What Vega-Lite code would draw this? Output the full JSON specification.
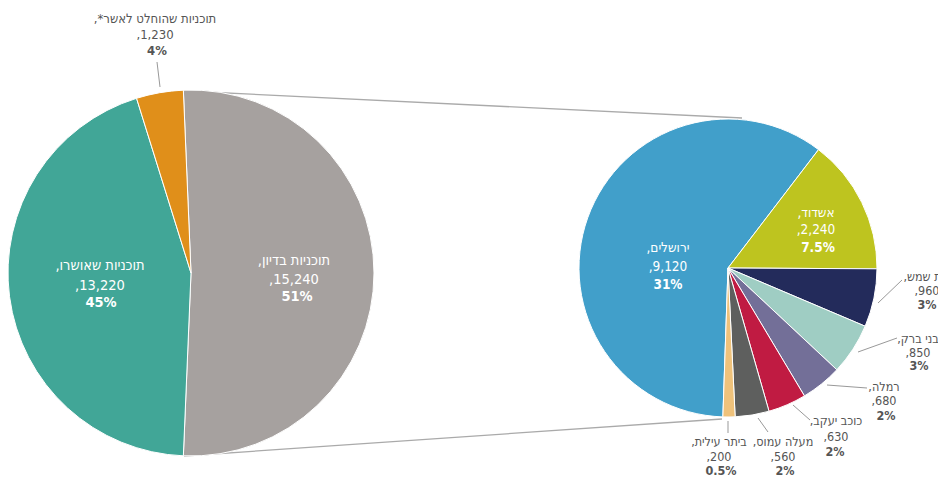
{
  "$schema": "https://vega.github.io/schema/vega-lite/v6.json",
  "width": 938,
  "height": 481,
  "autosize": {"type": "none"},
  "padding": 0,
  "background": "white",
  "config": {"view": {"stroke": null}, "text": {"font": "DejaVu Sans Condensed", "align": "center", "baseline": "middle"}},
  "datasets": {
    "main": [
      {"name": "תוכניות בדיון", "value": 15240, "pct": "51%", "label": "תוכניות בדיון,\u200f\n\u200f15,240,\u200f"},
      {"name": "תוכניות שאושרו", "value": 13220, "pct": "45%", "label": "תוכניות שאושרו,\u200f\n\u200f13,220,\u200f"},
      {"name": "תוכניות שהוחלט לאשר*", "value": 1230, "pct": "4%", "label": "תוכניות שהוחלט לאשר*,\u200f\n\u200f1,230,\u200f"}
    ],
    "sub": [
      {"name": "ירושלים", "value": 9120, "pct": "31%", "label": "ירושלים,\u200f\n\u200f9,120,\u200f"},
      {"name": "אשדוד", "value": 2240, "pct": "7.5%", "label": "אשדוד,\u200f\n\u200f2,240,\u200f"},
      {"name": "בית שמש", "value": 960, "pct": "3%", "label": "בית שמש,\u200f\n\u200f960,\u200f"},
      {"name": "בני ברק", "value": 850, "pct": "3%", "label": "בני ברק,\u200f\n\u200f850,\u200f"},
      {"name": "רמלה", "value": 680, "pct": "2%", "label": "רמלה,\u200f\n\u200f680,\u200f"},
      {"name": "כוכב יעקב", "value": 630, "pct": "2%", "label": "כוכב יעקב,\u200f\n\u200f630,\u200f"},
      {"name": "מעלה עמוס", "value": 560, "pct": "2%", "label": "מעלה עמוס,\u200f\n\u200f560,\u200f"},
      {"name": "ביתר עילית", "value": 200, "pct": "0.5%", "label": "ביתר עילית,\u200f\n\u200f200,\u200f"}
    ]
  },
  "resolve": {"scale": {"theta": "independent", "color": "independent"}},
  "layer": [
    {
      "data": {"name": "main"},
      "transform": [{"filter": "datum.value === 15240"}],
      "layer": [
        {"mark": {"type": "rule", "stroke": "#aaaaaa", "strokeWidth": 1.3},
         "encoding": {"x": {"datum": 185, "axis": null}, "y": {"datum": 91, "axis": null}, "x2": {"datum": 742}, "y2": {"datum": 118}}},
        {"mark": {"type": "rule", "stroke": "#aaaaaa", "strokeWidth": 1.3},
         "encoding": {"x": {"datum": 184, "axis": null}, "y": {"datum": 456, "axis": null}, "x2": {"datum": 722}, "y2": {"datum": 419}}}
      ]
    },
    {
      "data": {"name": "main"},
      "mark": {"type": "arc", "outerRadius": 183, "stroke": "white", "strokeWidth": 1},
      "encoding": {
        "x": {"datum": 191, "scale": {"domain": [0, 938], "nice": false, "zero": false}, "axis": null},
        "y": {"datum": 273, "scale": {"domain": [0, 481], "nice": false, "zero": false, "reverse": true}, "axis": null},
        "theta": {"field": "value", "type": "quantitative", "stack": true, "scale": {"range": [-0.0418, 6.2414]}},
        "order": {"field": "value", "sort": "descending"},
        "color": {"field": "name", "type": "nominal", "legend": null,
          "scale": {"domain": ["תוכניות בדיון", "תוכניות שאושרו", "תוכניות שהוחלט לאשר*"], "range": ["#a6a19f", "#41a697", "#e08f1a"]}}
      }
    },
    {
      "data": {"name": "sub"},
      "mark": {"type": "arc", "outerRadius": 149, "stroke": "white", "strokeWidth": 1},
      "encoding": {
        "x": {"datum": 728, "axis": null},
        "y": {"datum": 268, "axis": null},
        "theta": {"field": "value", "type": "quantitative", "stack": true, "scale": {"range": [3.176, 9.4592]}},
        "order": {"field": "value", "sort": "descending"},
        "color": {"field": "name", "type": "nominal", "legend": null,
          "scale": {"domain": ["ירושלים", "אשדוד", "בית שמש", "בני ברק", "רמלה", "כוכב יעקב", "מעלה עמוס", "ביתר עילית"],
                    "range": ["#419fca", "#bec41f", "#232b5b", "#9fcdc3", "#736f98", "#c01b42", "#5e5f5e", "#efc27b"]}}
      }
    },
    {
      "data": {"name": "main"},
      "transform": [{"filter": "datum.value === 15240"}],
      "layer": [
        {"mark": {"type": "text", "lineBreak": "\n", "fontSize": 14.5, "lineHeight": 19, "fill": "white"},
         "encoding": {"x": {"datum": 294, "axis": null}, "y": {"datum": 261, "axis": null}, "text": {"field": "label"}}},
        {"mark": {"type": "text", "fontSize": 14.5, "fontWeight": "bold", "fill": "white"},
         "encoding": {"x": {"datum": 297, "axis": null}, "y": {"datum": 297, "axis": null}, "text": {"field": "pct"}}}
      ]
    },
    {
      "data": {"name": "main"},
      "transform": [{"filter": "datum.value === 13220"}],
      "layer": [
        {"mark": {"type": "text", "lineBreak": "\n", "fontSize": 14.5, "lineHeight": 20, "fill": "white"},
         "encoding": {"x": {"datum": 100, "axis": null}, "y": {"datum": 266, "axis": null}, "text": {"field": "label"}}},
        {"mark": {"type": "text", "fontSize": 14.5, "fontWeight": "bold", "fill": "white"},
         "encoding": {"x": {"datum": 101, "axis": null}, "y": {"datum": 303, "axis": null}, "text": {"field": "pct"}}}
      ]
    },
    {
      "data": {"name": "main"},
      "transform": [{"filter": "datum.value === 1230"}],
      "layer": [
        {"mark": {"type": "rule", "stroke": "#999999", "strokeWidth": 1},
         "encoding": {"x": {"datum": 157, "axis": null}, "y": {"datum": 62, "axis": null}, "x2": {"datum": 160}, "y2": {"datum": 87}}},
        {"mark": {"type": "text", "lineBreak": "\n", "fontSize": 13, "lineHeight": 15.5, "fill": "#555555"},
         "encoding": {"x": {"datum": 155, "axis": null}, "y": {"datum": 19, "axis": null}, "text": {"field": "label"}}},
        {"mark": {"type": "text", "fontSize": 13, "fontWeight": "bold", "fill": "#555555"},
         "encoding": {"x": {"datum": 157, "axis": null}, "y": {"datum": 51, "axis": null}, "text": {"field": "pct"}}}
      ]
    },
    {
      "data": {"name": "sub"},
      "transform": [{"filter": "datum.value === 9120"}],
      "layer": [
        {"mark": {"type": "text", "lineBreak": "\n", "fontSize": 13.5, "lineHeight": 19, "fill": "white"},
         "encoding": {"x": {"datum": 668, "axis": null}, "y": {"datum": 248, "axis": null}, "text": {"field": "label"}}},
        {"mark": {"type": "text", "fontSize": 13.5, "fontWeight": "bold", "fill": "white"},
         "encoding": {"x": {"datum": 668, "axis": null}, "y": {"datum": 285, "axis": null}, "text": {"field": "pct"}}}
      ]
    },
    {
      "data": {"name": "sub"},
      "transform": [{"filter": "datum.value === 2240"}],
      "layer": [
        {"mark": {"type": "text", "lineBreak": "\n", "fontSize": 13.5, "lineHeight": 17, "fill": "white"},
         "encoding": {"x": {"datum": 816, "axis": null}, "y": {"datum": 213, "axis": null}, "text": {"field": "label"}}},
        {"mark": {"type": "text", "fontSize": 13.5, "fontWeight": "bold", "fill": "white"},
         "encoding": {"x": {"datum": 818, "axis": null}, "y": {"datum": 248, "axis": null}, "text": {"field": "pct"}}}
      ]
    },
    {
      "data": {"name": "sub"},
      "transform": [{"filter": "datum.value === 960"}],
      "layer": [
        {"mark": {"type": "rule", "stroke": "#999999", "strokeWidth": 1},
         "encoding": {"x": {"datum": 878, "axis": null}, "y": {"datum": 303, "axis": null}, "x2": {"datum": 902}, "y2": {"datum": 280}}},
        {"mark": {"type": "text", "lineBreak": "\n", "fontSize": 12.5, "lineHeight": 14, "fill": "#555555"},
         "encoding": {"x": {"datum": 927, "axis": null}, "y": {"datum": 277, "axis": null}, "text": {"field": "label"}}},
        {"mark": {"type": "text", "fontSize": 12.5, "fontWeight": "bold", "fill": "#555555"},
         "encoding": {"x": {"datum": 927, "axis": null}, "y": {"datum": 305, "axis": null}, "text": {"field": "pct"}}}
      ]
    },
    {
      "data": {"name": "sub"},
      "transform": [{"filter": "datum.value === 850"}],
      "layer": [
        {"mark": {"type": "rule", "stroke": "#999999", "strokeWidth": 1},
         "encoding": {"x": {"datum": 858, "axis": null}, "y": {"datum": 352, "axis": null}, "x2": {"datum": 897}, "y2": {"datum": 338}}},
        {"mark": {"type": "text", "lineBreak": "\n", "fontSize": 12.5, "lineHeight": 13.5, "fill": "#555555"},
         "encoding": {"x": {"datum": 918, "axis": null}, "y": {"datum": 339, "axis": null}, "text": {"field": "label"}}},
        {"mark": {"type": "text", "fontSize": 12.5, "fontWeight": "bold", "fill": "#555555"},
         "encoding": {"x": {"datum": 919, "axis": null}, "y": {"datum": 366, "axis": null}, "text": {"field": "pct"}}}
      ]
    },
    {
      "data": {"name": "sub"},
      "transform": [{"filter": "datum.value === 680"}],
      "layer": [
        {"mark": {"type": "rule", "stroke": "#999999", "strokeWidth": 1},
         "encoding": {"x": {"datum": 827, "axis": null}, "y": {"datum": 385, "axis": null}, "x2": {"datum": 867}, "y2": {"datum": 388}}},
        {"mark": {"type": "text", "lineBreak": "\n", "fontSize": 12.5, "lineHeight": 13.5, "fill": "#555555"},
         "encoding": {"x": {"datum": 884, "axis": null}, "y": {"datum": 387, "axis": null}, "text": {"field": "label"}}},
        {"mark": {"type": "text", "fontSize": 12.5, "fontWeight": "bold", "fill": "#555555"},
         "encoding": {"x": {"datum": 886, "axis": null}, "y": {"datum": 416, "axis": null}, "text": {"field": "pct"}}}
      ]
    },
    {
      "data": {"name": "sub"},
      "transform": [{"filter": "datum.value === 630"}],
      "layer": [
        {"mark": {"type": "rule", "stroke": "#999999", "strokeWidth": 1},
         "encoding": {"x": {"datum": 793, "axis": null}, "y": {"datum": 405, "axis": null}, "x2": {"datum": 810}, "y2": {"datum": 420}}},
        {"mark": {"type": "text", "lineBreak": "\n", "fontSize": 12.5, "lineHeight": 16, "fill": "#555555"},
         "encoding": {"x": {"datum": 836, "axis": null}, "y": {"datum": 421, "axis": null}, "text": {"field": "label"}}},
        {"mark": {"type": "text", "fontSize": 12.5, "fontWeight": "bold", "fill": "#555555"},
         "encoding": {"x": {"datum": 835, "axis": null}, "y": {"datum": 452, "axis": null}, "text": {"field": "pct"}}}
      ]
    },
    {
      "data": {"name": "sub"},
      "transform": [{"filter": "datum.value === 560"}],
      "layer": [
        {"mark": {"type": "rule", "stroke": "#999999", "strokeWidth": 1},
         "encoding": {"x": {"datum": 758, "axis": null}, "y": {"datum": 418, "axis": null}, "x2": {"datum": 768}, "y2": {"datum": 432}}},
        {"mark": {"type": "text", "lineBreak": "\n", "fontSize": 12.5, "lineHeight": 15, "fill": "#555555"},
         "encoding": {"x": {"datum": 783, "axis": null}, "y": {"datum": 442, "axis": null}, "text": {"field": "label"}}},
        {"mark": {"type": "text", "fontSize": 12.5, "fontWeight": "bold", "fill": "#555555"},
         "encoding": {"x": {"datum": 785, "axis": null}, "y": {"datum": 471, "axis": null}, "text": {"field": "pct"}}}
      ]
    },
    {
      "data": {"name": "sub"},
      "transform": [{"filter": "datum.value === 200"}],
      "layer": [
        {"mark": {"type": "rule", "stroke": "#999999", "strokeWidth": 1},
         "encoding": {"x": {"datum": 728, "axis": null}, "y": {"datum": 421, "axis": null}, "x2": {"datum": 728}, "y2": {"datum": 433}}},
        {"mark": {"type": "text", "lineBreak": "\n", "fontSize": 12.5, "lineHeight": 15, "fill": "#555555"},
         "encoding": {"x": {"datum": 719, "axis": null}, "y": {"datum": 442, "axis": null}, "text": {"field": "label"}}},
        {"mark": {"type": "text", "fontSize": 12.5, "fontWeight": "bold", "fill": "#555555"},
         "encoding": {"x": {"datum": 721, "axis": null}, "y": {"datum": 471, "axis": null}, "text": {"field": "pct"}}}
      ]
    }
  ]
}
